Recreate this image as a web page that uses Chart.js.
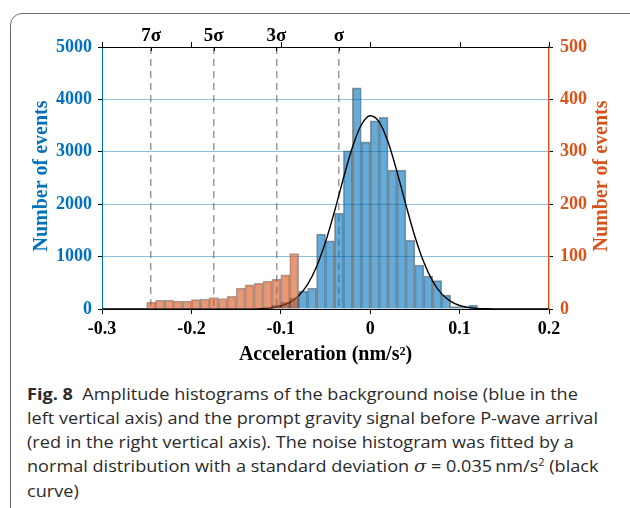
<!DOCTYPE html>
<html>
<head>
<meta charset="utf-8">
<script src="https://cdn.jsdelivr.net/npm/chart.js@4.4.1/dist/chart.umd.min.js"></script>
<style>
    html, body { margin: 0; padding: 0; background: #fff; width: 630px; height: 508px; overflow: hidden; }
    #frame { position: absolute; left: 10px; top: 13px; width: 640px; height: 530px; border: 1.5px solid #6d6e71; border-radius: 12px; box-sizing: border-box; }
    #wrap { position: absolute; left: 0; top: 0; width: 630px; height: 380px; }
    #caption { position: absolute; left: 27px; top: 382px; font-family: "Open Sans", sans-serif; font-size: 16.5px; line-height: 24px; color: #2b2a2b; white-space: nowrap; transform-origin: left top; }
    #caption b { font-weight: 700; }
    .sig { font-family: "DejaVu Serif", serif; font-style: italic; }
    sup { font-size: 10px; vertical-align: 6px; line-height: 0; }
</style>
</head>
<body>
<div id="frame"></div>
<div id="wrap"><canvas id="myChart" width="630" height="380"></canvas></div>
<div id="caption">
    <div><span><b>Fig. 8</b>&nbsp; Amplitude histograms of the background noise (blue in the</span></div>
    <div><span id="capRef">left vertical axis) and the prompt gravity signal before P-wave arrival</span></div>
    <div><span>(red in the right vertical axis). The noise histogram was fitted by a</span></div>
    <div><span>normal distribution with a standard deviation <span class="sig">σ</span>&nbsp;=&nbsp;0.035&thinsp;nm/s<sup>2</sup> (black</span></div>
    <div><span>curve)</span></div>
</div>
<script>
// background noise histogram (left axis), bin centres and counts
const noiseBins = [-0.115, -0.105, -0.095, -0.085, -0.075, -0.065, -0.055, -0.045, -0.035, -0.025, -0.015, -0.005,
    0.005, 0.015, 0.025, 0.035, 0.045, 0.055, 0.065, 0.075, 0.085, 0.095, 0.105, 0.115];
const noiseCounts = [15, 70, 125, 210, 340, 400, 1430, 1300, 1830, 3020, 4220, 3190,
    3590, 3660, 2650, 2650, 1310, 840, 630, 540, 265, 45, 30, 75];

// prompt gravity signal histogram (right axis)
const signalBins = [-0.245, -0.235, -0.225, -0.215, -0.205, -0.195, -0.185, -0.175, -0.165,
    -0.155, -0.145, -0.135, -0.125, -0.115, -0.105, -0.095, -0.085];
const signalCounts = [13, 17, 17, 15, 15, 18, 19, 22, 20, 24, 40, 46, 49, 53, 57, 65, 106];

// normal fit (black curve)
const fitX = [-0.3, -0.16, -0.15, -0.14, -0.13, -0.12, -0.11, -0.1, -0.09, -0.08, -0.07, -0.06, -0.05, -0.04, -0.03, -0.02, -0.01,
    0, 0.01, 0.02, 0.03, 0.04, 0.05, 0.06, 0.07, 0.08, 0.09, 0.1, 0.11, 0.12, 0.13, 0.14, 0.15, 0.2];
const fitY = [0, 0, 0, 1, 3, 9, 24, 57, 126, 254, 471, 808, 1277, 1858, 2493, 3082, 3512,
    3688, 3570, 3185, 2618, 1984, 1385, 891, 529, 289, 145, 67, 29, 11, 4, 1, 0, 0];

const xTicks = [-0.3, -0.2, -0.1, 0, 0.1, 0.2];
const xTickLabels = ["-0.3", "-0.2", "-0.1", "0", "0.1", "0.2"];
const sigmaTicks = [-0.245, -0.175, -0.105, -0.035];
const sigmaLabels = ["7σ", "5σ", "3σ", "σ"];

const BLUE = "#0072BD";
const ORANGE = "#D95319";
const serif = "'Liberation Serif', 'Times New Roman', serif";

// top frame line, mirrored ticks and both y titles
const frameExtras = {
    id: "frameExtras",
    afterDraw(chart) {
        const { ctx, chartArea: a, scales } = chart;
        ctx.save();
        ctx.strokeStyle = "#000";
        ctx.lineWidth = 1;
        ctx.beginPath();
        ctx.moveTo(a.left, a.top + 0.5);
        ctx.lineTo(a.right, a.top + 0.5);
        xTicks.forEach((v) => {
            const px = Math.round(scales.x.getPixelForValue(v)) + 0.5;
            ctx.moveTo(px, a.top);
            ctx.lineTo(px, a.top - 5);
        });
        sigmaTicks.forEach((v) => {
            const px = Math.round(scales.x.getPixelForValue(v)) + 0.5;
            ctx.moveTo(px, a.top);
            ctx.lineTo(px, a.top + 4);
        });
        ctx.stroke();

        ctx.font = "bold 20px " + serif;
        ctx.textAlign = "center";
        ctx.textBaseline = "middle";
        const midY = 176;
        ctx.fillStyle = BLUE;
        ctx.translate(42, midY);
        ctx.rotate(-Math.PI / 2);
        ctx.fillText("Number of events", 0, 0);
        ctx.setTransform(1, 0, 0, 1, 0, 0);
        ctx.fillStyle = ORANGE;
        ctx.translate(602, midY);
        ctx.rotate(-Math.PI / 2);
        ctx.fillText("Number of events", 0, 0);
        ctx.restore();
    },
};

const ctx = document.getElementById("myChart").getContext("2d");
const chart = new Chart(ctx, {
    type: "bar",
    data: {
        datasets: [
            {
                label: "Prompt gravity signal",
                data: signalBins.map((x, i) => ({ x: x, y: signalCounts[i] })),
                yAxisID: "y1",
                backgroundColor: "rgba(217, 83, 25, 0.6)",
                borderColor: "rgba(60, 60, 60, 0.45)",
                borderWidth: 1,
                barPercentage: 1,
                categoryPercentage: 1,
                grouped: false,
                order: 0,
            },
            {
                type: "line",
                label: "Normal fit",
                data: fitX.map((x, i) => ({ x: x, y: fitY[i] })),
                yAxisID: "y",
                borderColor: "#000",
                borderWidth: 1.4,
                pointRadius: 0,
                fill: false,
                cubicInterpolationMode: "monotone",
                order: 1,
            },
            {
                label: "Background noise",
                data: noiseBins.map((x, i) => ({ x: x, y: noiseCounts[i] })),
                yAxisID: "y",
                backgroundColor: "rgba(0, 114, 189, 0.6)",
                borderColor: "rgba(50, 50, 50, 0.5)",
                borderWidth: 1,
                barPercentage: 1,
                categoryPercentage: 1,
                grouped: false,
                order: 2,
            },
        ],
    },
    options: {
        responsive: false,
        animation: false,
        layout: { padding: 0 },
        plugins: {
            legend: { display: false },
            tooltip: { enabled: false },
        },
        scales: {
            x: {
                type: "linear",
                position: "bottom",
                min: -0.3,
                max: 0.2,
                offset: false,
                afterBuildTicks: (s) => { s.ticks = xTicks.map((v) => ({ value: v })); },
                afterFit: (s) => { s.height = 71; },
                ticks: {
                    autoSkip: false,
                    maxRotation: 0,
                    padding: 5,
                    color: "#000",
                    font: { family: serif, weight: "bold", size: 18 },
                    callback: (v, i) => xTickLabels[i],
                },
                grid: { drawOnChartArea: false, offset: false, tickLength: 5, color: "#000" },
                border: { color: "#000", width: 1 },
                title: {
                    display: true,
                    text: "Acceleration (nm/s²)",
                    color: "#000",
                    font: { family: serif, weight: "bold", size: 20 },
                    padding: { top: 0, bottom: 13 },
                },
            },
            x2: {
                type: "linear",
                position: "top",
                min: -0.3,
                max: 0.2,
                offset: false,
                z: 1,
                afterBuildTicks: (s) => { s.ticks = sigmaTicks.map((v) => ({ value: v })); },
                afterFit: (s) => { s.height = 47; },
                ticks: {
                    autoSkip: false,
                    maxRotation: 0,
                    padding: 0,
                    color: "#000",
                    font: { family: serif, weight: "bold", size: 19 },
                    callback: (v, i) => sigmaLabels[i],
                },
                grid: { drawTicks: false, offset: false, color: "rgba(120, 120, 120, 0.75)", lineWidth: 1.5 },
                border: { display: false, dash: [7, 5] },
            },
            y: {
                position: "left",
                min: 0,
                max: 5000,
                z: 1,
                afterFit: (s) => { s.width = 102; },
                ticks: {
                    stepSize: 1000,
                    padding: 6,
                    color: BLUE,
                    font: { family: serif, weight: "bold", size: 18 },
                    callback: (v) => String(v),
                },
                grid: {
                    tickLength: 4,
                    tickColor: "#000",
                    lineWidth: 1,
                    color: (c) => (c.tick && (c.tick.value === 0 || c.tick.value === 5000)) ? "rgba(0,0,0,0)" : "rgba(0, 114, 189, 0.45)",
                },
                border: { color: BLUE, width: 1 },
            },
            y1: {
                position: "right",
                min: 0,
                max: 500,
                afterFit: (s) => { s.width = 81; },
                ticks: {
                    stepSize: 100,
                    padding: 7,
                    color: ORANGE,
                    font: { family: serif, weight: "bold", size: 18 },
                    callback: (v) => String(v),
                },
                grid: { drawOnChartArea: false, tickLength: 4, color: "#000" },
                border: { color: ORANGE, width: 1.5 },
            },
        },
    },
    plugins: [frameExtras],
});

// stretch the caption to the width of the original text block
const cap = document.getElementById("caption");
const refWidth = document.getElementById("capRef").getBoundingClientRect().width;
cap.style.transform = "scaleX(" + (571 / refWidth) + ")";
</script>
</body>
</html>
